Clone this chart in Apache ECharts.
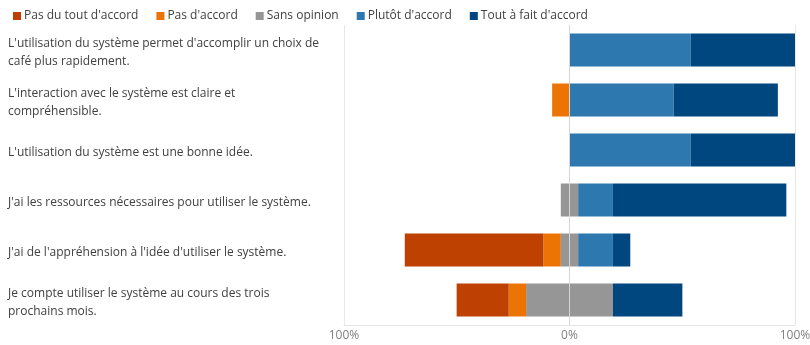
<!DOCTYPE html>
<html>
<head>
<meta charset="utf-8">
<script src="https://cdn.jsdelivr.net/npm/echarts@6/dist/echarts.min.js"></script>
<style>
  html, body { margin: 0; padding: 0; background: #fff; }
  #chart { width: 810px; height: 345px; }
</style>
</head>
<body>
<div id="chart"></div>
<script>
// Survey statements (top to bottom)
const statements = [
  "L'utilisation du système permet d'accomplir un choix de café plus rapidement.",
  "L'interaction avec le système est claire et compréhensible.",
  "L'utilisation du système est une bonne idée.",
  "J'ai les ressources nécessaires pour utiliser le système.",
  "J'ai de l'appréhension à l'idée d'utiliser le système.",
  "Je compte utiliser le système au cours des trois prochains mois."
];

// Share of answers per statement, in %
const pasDuToutDaccord = [0, 0, 0, 0, 61.5, 23.1];
const pasDaccord       = [0, 7.7, 0, 0, 7.7, 7.7];
const sansOpinion      = [0, 0, 0, 7.7, 7.7, 38.5];
const plutotDaccord    = [53.8, 46.2, 53.8, 15.4, 15.4, 0];
const toutAFaitDaccord = [46.2, 46.2, 46.2, 76.9, 7.7, 30.8];

const axisTicks = [-100, 0, 100];

const colors = {
  pasDuTout: '#BE4102',
  pasDaccord: '#EC7404',
  sans: '#969696',
  plutot: '#2E78B0',
  toutAFait: '#00467F'
};

const legendNames = ["Pas du tout d'accord", "Pas d'accord", "Sans opinion", "Plutôt d'accord", "Tout à fait d'accord"];
const legendColors = [colors.pasDuTout, colors.pasDaccord, colors.sans, colors.plutot, colors.toutAFait];

const neg = arr => arr.map(v => (v ? -v : null));
const pos = arr => arr.map(v => (v ? v : null));
const half = arr => arr.map(v => (v ? v / 2 : null));

function barSeries(name, data, color, extra) {
  return Object.assign({
    name: name,
    type: 'bar',
    stack: 'likert',
    data: data,
    barWidth: 33,
    itemStyle: { color: color },
    emphasis: { disabled: true }
  }, extra || {});
}

// Negative side stacks outward from zero: neutral half, disagree, strongly disagree
const series = [
  barSeries("Sans opinion", neg(half(sansOpinion)), colors.sans),
  barSeries("Pas d'accord", neg(pasDaccord), colors.pasDaccord),
  barSeries("Pas du tout d'accord", neg(pasDuToutDaccord), colors.pasDuTout),
  barSeries("Sans opinion", half(sansOpinion), colors.sans),
  barSeries("Plutôt d'accord", pos(plutotDaccord), colors.plutot),
  barSeries("Tout à fait d'accord", pos(toutAFaitDaccord), colors.toutAFait, {
    markLine: {
      silent: true,
      symbol: 'none',
      label: { show: false },
      lineStyle: { color: '#d6d6d6', width: 1, type: 'solid' },
      data: [{ xAxis: 0 }],
      z: 10
    }
  })
];

const chart = echarts.init(document.getElementById('chart'), null, { renderer: 'canvas' });
chart.setOption({
  animation: false,
  textStyle: { fontFamily: '"Open Sans", "Noto Sans", sans-serif' },
  color: legendColors,
  legend: {
    data: legendNames.map((n, i) => ({ name: n, itemStyle: { color: legendColors[i] } })),
    left: 8,
    top: 5,
    itemWidth: 8,
    itemHeight: 8,
    itemGap: 18,
    icon: 'rect',
    textStyle: { fontSize: 12, color: '#404040', padding: [0, 0, 0, -2] }
  },
  grid: { left: 344, right: 15, top: 25, bottom: 20, containLabel: false, outerBoundsMode: 'none' },
  xAxis: {
    type: 'value',
    min: axisTicks[0],
    max: axisTicks[axisTicks.length - 1],
    interval: 100,
    axisLine: { show: true, lineStyle: { color: '#e4e4e4' } },
    axisTick: { show: false },
    splitLine: { show: true, lineStyle: { color: '#e8e8e8' } },
    axisLabel: {
      color: '#7f7f7f',
      fontSize: 12,
      margin: 5,
      formatter: v => Math.abs(v) + '%'
    }
  },
  yAxis: {
    type: 'category',
    inverse: true,
    data: statements,
    axisLine: { show: false },
    axisTick: { show: false },
    axisLabel: {
      align: 'left',
      margin: 336,
      width: 320,
      overflow: 'break',
      color: '#404040',
      fontSize: 12,
      lineHeight: 18,
      formatter: v => '{t|' + v + '}',
      rich: {
        t: { color: '#404040', fontSize: 12, lineHeight: 18, padding: [5, 0, 0, 0] }
      }
    }
  },
  series: series
});
</script>
</body>
</html>
